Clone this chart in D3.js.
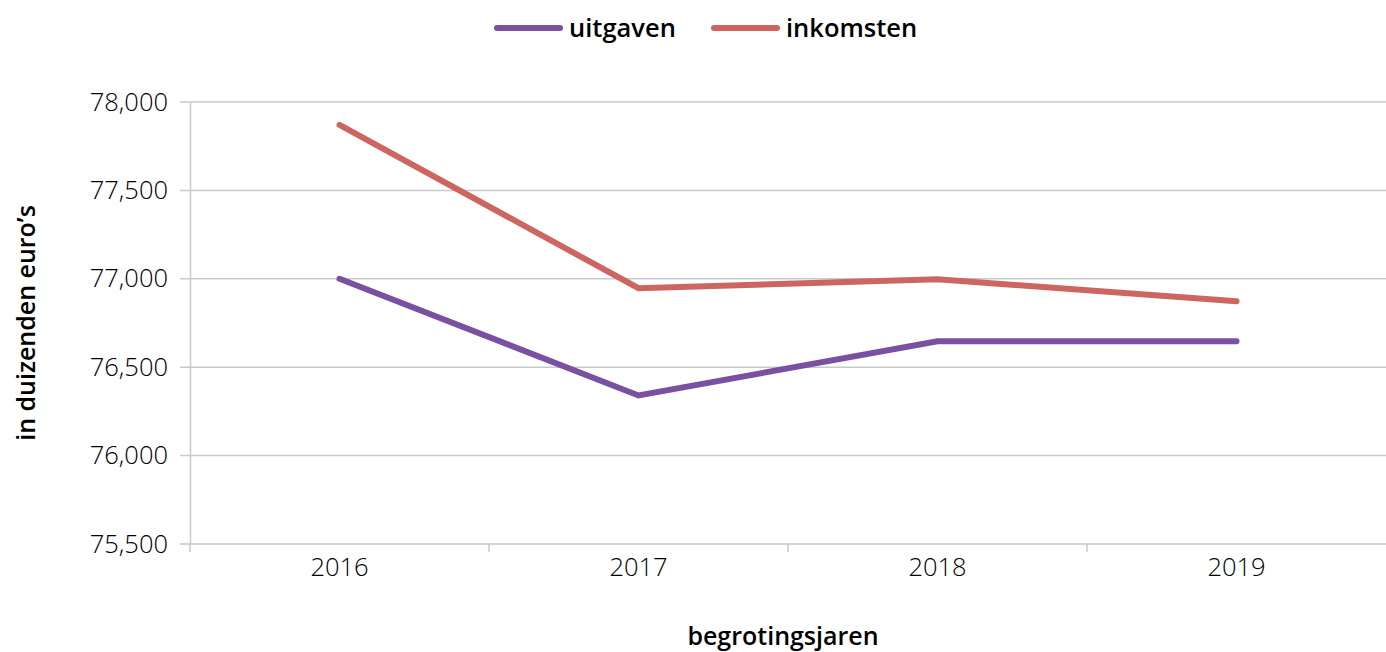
<!DOCTYPE html>
<html>
<head>
<meta charset="utf-8">
<script src="https://cdn.jsdelivr.net/npm/d3@7"></script>
<style>
  body { margin: 0; background: #fff; }
  text { font-family: "Open Sans", "Noto Sans", sans-serif; fill: #000; }
  .tick text { font-weight: 300; font-size: 25.5px; }
  .title { font-weight: 600; font-size: 25px; }
</style>
</head>
<body>
<svg id="chart"></svg>
<script>
const width = 1386;
const height = 652;

const years = ["2016", "2017", "2018", "2019"];
const uitgaven = [77000, 76340, 76647, 76647];
const inkomsten = [77870, 76947, 76997, 76873];
const yTicks = [75500, 76000, 76500, 77000, 77500, 78000];

const series = [
  { name: "uitgaven", values: uitgaven, color: "#7951a0" },
  { name: "inkomsten", values: inkomsten, color: "#cd6660" },
];

const margin = { top: 102, right: 0, bottom: 108, left: 190 };

const svg = d3.select("#chart")
  .attr("width", width)
  .attr("height", height);

const x = d3.scaleBand()
  .domain(years)
  .range([margin.left, width - margin.right]);

const y = d3.scaleLinear()
  .domain([75500, 78000])
  .range([height - margin.bottom, margin.top]);

// gridlines
svg.append("g")
  .selectAll("line")
  .data(yTicks)
  .join("line")
  .attr("x1", margin.left - 10)
  .attr("x2", width - margin.right)
  .attr("y1", d => y(d))
  .attr("y2", d => y(d))
  .attr("stroke", "#c8c9cc")
  .attr("stroke-width", 1.5);

// y axis
const yAxis = svg.append("g")
  .attr("transform", `translate(${margin.left},0)`)
  .call(d3.axisLeft(y).tickValues(yTicks).tickSize(0).tickPadding(22)
    .tickFormat(d3.format(",")));
yAxis.select(".domain").attr("stroke", "#c8c9cc").attr("stroke-width", 1.5);

// x axis
const xTickPos = years.map(d => x(d));
const xAxis = svg.append("g")
  .attr("transform", `translate(0,${height - margin.bottom})`);
xAxis.selectAll("line")
  .data(xTickPos)
  .join("line")
  .attr("x1", d => d).attr("x2", d => d)
  .attr("y1", 0).attr("y2", 8)
  .attr("stroke", "#c8c9cc")
  .attr("stroke-width", 1.5);
xAxis.call(g => g.append("g")
  .call(d3.axisBottom(x).tickSize(0).tickPadding(14))
  .call(a => a.select(".domain").remove()));

// lines
const line = d3.line()
  .x((d, i) => x(years[i]) + x.bandwidth() / 2)
  .y(d => y(d));

svg.append("g")
  .selectAll("path")
  .data(series)
  .join("path")
  .attr("fill", "none")
  .attr("stroke", d => d.color)
  .attr("stroke-width", 6)
  .attr("stroke-linecap", "round")
  .attr("stroke-linejoin", "miter")
  .attr("d", d => line(d.values));

// axis titles
svg.append("text")
  .attr("class", "title")
  .attr("x", 783)
  .attr("y", 645)
  .attr("text-anchor", "middle")
  .text("begrotingsjaren");

svg.append("text")
  .attr("class", "title")
  .attr("transform", `translate(35,${(margin.top + height - margin.bottom) / 2}) rotate(-90)`)
  .attr("text-anchor", "middle")
  .text("in duizenden euro’s");

// legend
const legendX = [497, 714];
const legend = svg.append("g")
  .selectAll("g")
  .data(series)
  .join("g")
  .attr("transform", (d, i) => `translate(${legendX[i]},28)`);
legend.append("line")
  .attr("x1", 0).attr("x2", 63)
  .attr("stroke", d => d.color)
  .attr("stroke-width", 6)
  .attr("stroke-linecap", "round");
legend.append("text")
  .attr("class", "title")
  .attr("x", 72)
  .attr("dy", "0.35em")
  .style("font-size", "25.5px")
  .text(d => d.name);
</script>
</body>
</html>
